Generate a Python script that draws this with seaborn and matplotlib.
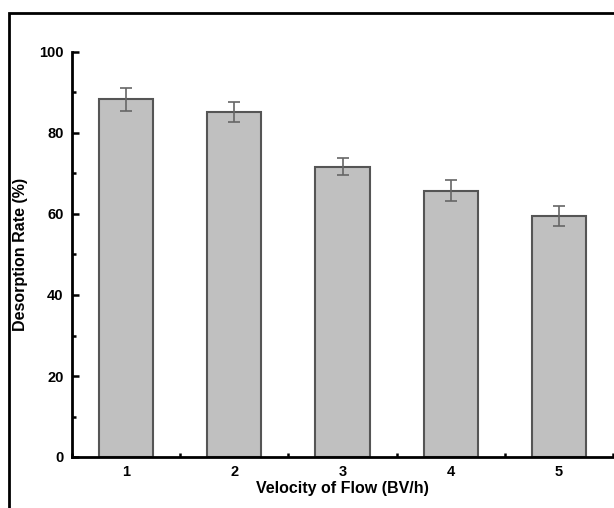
import matplotlib
matplotlib.use("Agg")
import matplotlib.pyplot as plt
from matplotlib.patches import Rectangle
from matplotlib.ticker import MultipleLocator
import seaborn as sns
import pandas as pd

velocity = [1, 2, 3, 4, 5]
desorption = [88.3, 85.1, 71.7, 65.8, 59.5]
errors = [2.8, 2.5, 2.1, 2.5, 2.4]

sns.set_style("ticks")
plt.rcParams['font.family'] = ['Liberation Sans', 'DejaVu Sans']
plt.rcParams['font.weight'] = 'bold'
plt.rcParams['text.color'] = 'black'
plt.rcParams['axes.labelcolor'] = 'black'
plt.rcParams['xtick.color'] = 'black'
plt.rcParams['ytick.color'] = 'black'

df = pd.DataFrame({"v": velocity, "d": desorption, "e": errors})

fig = plt.figure(figsize=(6.14, 5.08), dpi=100)
ax = fig.add_axes([72/614, 1-457/508, (613-72)/614, (457-52)/508])

sns.barplot(data=df, x="v", y="d", native_scale=True, width=0.5,
            color="#c0c0c0", edgecolor="#555555", linewidth=1.5,
            saturation=1, errorbar=None, ax=ax)
ax.errorbar(df["v"], df["d"], yerr=df["e"], fmt="none", ecolor="#666666",
            elinewidth=1.2, capsize=4, capthick=1.2)

ax.set_xlim(0.5, 5.5)
ax.set_ylim(0, 100)
ax.xaxis.set_major_locator(MultipleLocator(1))
ax.xaxis.set_minor_locator(MultipleLocator(0.5))
ax.yaxis.set_major_locator(MultipleLocator(20))
ax.yaxis.set_minor_locator(MultipleLocator(10))
ax.tick_params(which="both", direction="in", width=1.8, colors="black",
               labelsize=10.5)
ax.tick_params(which="major", length=5, pad=6)
ax.tick_params(which="minor", length=3)
for lab in ax.get_xticklabels() + ax.get_yticklabels():
    lab.set_fontweight("bold")

sns.despine(ax=ax)
ax.spines["left"].set_linewidth(2)
ax.spines["bottom"].set_linewidth(2)
ax.spines["left"].set_color("black")
ax.spines["bottom"].set_color("black")

ax.set_xlabel("Velocity of Flow (BV/h)", fontsize=11.5, fontweight="bold",
              labelpad=1, color="black")
ax.set_ylabel("Desorption Rate (%)", fontsize=11.5, fontweight="bold",
              labelpad=8, color="black")

fig.patches.append(Rectangle((9/614, -0.1), 1.2, 1 - 13/508 + 0.1,
                             transform=fig.transFigure, fill=False,
                             edgecolor="black", linewidth=2, clip_on=False))

fig.savefig("out.png", dpi=100)
